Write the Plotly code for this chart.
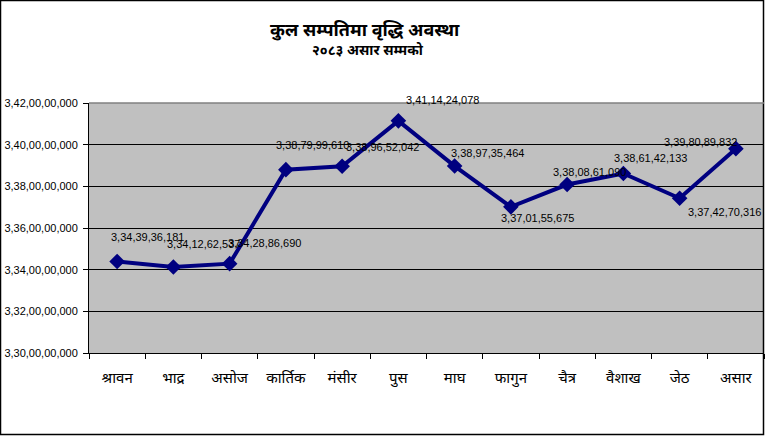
import plotly.graph_objects as go

# months (Nepali fiscal year) and total assets
months = ["श्रावन", "भाद्र", "असोज", "कार्तिक", "मंसीर", "पुस",
          "माघ", "फागुन", "चैत्र", "वैशाख", "जेठ", "असार"]
assets = [3343936181, 3341262537, 3342886690, 3387999610, 3389652042, 3411424078,
          3389735464, 3370155675, 3380861090, 3386142133, 3374270316, 3398089832]

y_ticks = [3300000000, 3320000000, 3340000000, 3360000000,
           3380000000, 3400000000, 3420000000]
y_tick_labels = ["3,30,00,00,000", "3,32,00,00,000", "3,34,00,00,000", "3,36,00,00,000",
                 "3,38,00,00,000", "3,40,00,00,000", "3,42,00,00,000"]

# label offsets from each point, px (x right, y up)
label_dx = [30, 30, 35, 27, 40, 44, 33, 27, 22, 27, 45, -35]
label_dy = [24, 23, 21, 25, 19, 21, 13, -11, 13, 16, -14, 7]

TITLE_FONT = "Noto Sans, DejaVu Sans, sans-serif"
NUM_FONT = "Liberation Sans, Arial, sans-serif"


def indian_format(n):
    s = str(n)
    last3 = s[-3:]
    rest = s[:-3]
    parts = []
    while len(rest) > 2:
        parts.insert(0, rest[-2:])
        rest = rest[:-2]
    if rest:
        parts.insert(0, rest)
    return ",".join(parts + [last3])


fig = go.Figure()
fig.add_trace(go.Scatter(
    x=months,
    y=assets,
    mode="lines+markers",
    line=dict(color="#000080", width=4),
    marker=dict(symbol="diamond", size=12, color="#000080"),
    hoverinfo="skip",
))

for m, v, dx, dy in zip(months, assets, label_dx, label_dy):
    fig.add_annotation(
        x=m, y=v, text=indian_format(v), showarrow=False,
        xshift=dx, yshift=dy,
        font=dict(family=NUM_FONT, size=11, color="black"),
    )

# title (paper coords relative to plot area 89..764 x 103..353 px)
fig.add_annotation(
    xref="paper", yref="paper", x=(365 - 89) / 675, y=(353 - 29) / 250,
    xanchor="center", yanchor="middle",
    text="<b>कुल सम्पतिमा वृद्धि अवस्था</b>", showarrow=False,
    font=dict(family=TITLE_FONT, size=18, color="black"),
)
fig.add_annotation(
    xref="paper", yref="paper", x=(368 - 89) / 675, y=(353 - 49) / 250,
    xanchor="center", yanchor="middle",
    text="<b>२०८३ असार सम्मको</b>", showarrow=False,
    font=dict(family=TITLE_FONT, size=14, color="black"),
)

# outer chart frame
fig.add_shape(
    type="rect", xref="paper", yref="paper",
    x0=(0.5 - 89) / 675, x1=(763.5 - 89) / 675,
    y0=(353 - 434.5) / 250, y1=(353 - 0.5) / 250,
    line=dict(color="black", width=1.5), layer="above",
)
# gray top border of plot area
fig.add_shape(
    type="line", xref="paper", yref="paper", x0=0, x1=1, y0=1, y1=1,
    line=dict(color="#808080", width=1.5),
)

fig.update_xaxes(
    type="category",
    showgrid=False,
    showline=True, linecolor="black", linewidth=1,
    ticks="outside", ticklen=5, tickcolor="black",
    tickson="boundaries",
    ticklabelstandoff=11,
    tickfont=dict(family=TITLE_FONT, size=15, color="black"),
    range=[-0.5, 11.5],
)
fig.update_yaxes(
    range=[3300000000, 3420000000],
    tickvals=y_ticks, ticktext=y_tick_labels,
    showgrid=True, gridcolor="black", gridwidth=1,
    showline=True, linecolor="black", linewidth=1,
    ticks="outside", ticklen=5, tickcolor="black",
    ticklabelstandoff=3,
    tickfont=dict(family=NUM_FONT, size=11, color="black"),
    zeroline=False,
)
fig.update_layout(
    width=765, height=436,
    margin=dict(l=89, r=1, t=103, b=83),
    plot_bgcolor="#C0C0C0",
    paper_bgcolor="white",
    showlegend=False,
)
fig.write_html(
    "out.html",
    config={"displayModeBar": False},
    post_script="document.body.style.margin='0';",
)
